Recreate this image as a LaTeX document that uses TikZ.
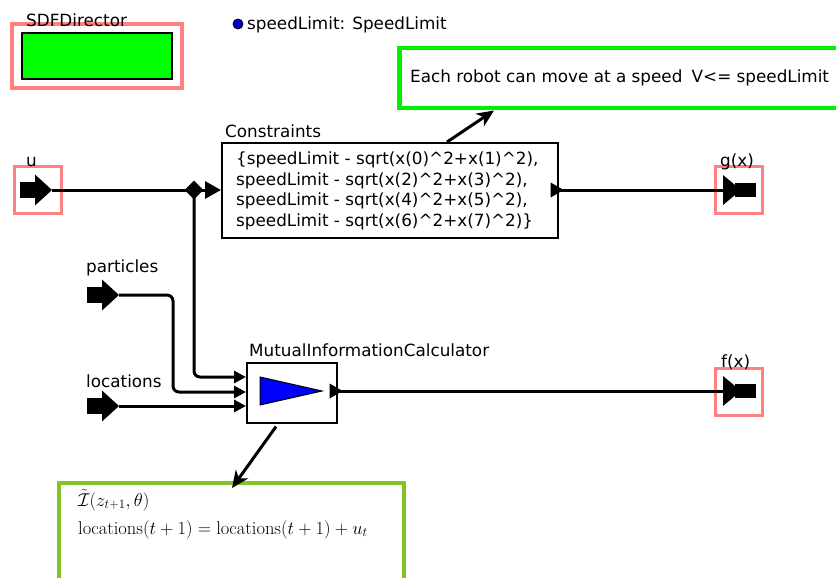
\documentclass[tikz,border=0pt]{standalone}
\usepackage{fontspec}
\setsansfont{DejaVu Sans}
\usetikzlibrary{arrows.meta,shapes.geometric,calc}

\definecolor{framepink}{RGB}{255,128,128}
\definecolor{dirgreen}{RGB}{0,255,0}
\definecolor{notegreen}{RGB}{0,240,0}
\definecolor{mathgreen}{RGB}{130,195,40}
\definecolor{paramblue}{RGB}{0,0,200}

\newcommand{\bigmath}[1]{\scalebox{1.07}{$#1$}}

\begin{document}
\begin{tikzpicture}[x=1pt,y=-1pt,
  lbl/.style={font=\sffamily\fontsize{16.8}{20}\selectfont, inner sep=0pt, anchor=base west},
  mathlbl/.style={font=\fontsize{17.28}{21}\selectfont, inner sep=0pt, anchor=base west},
  portframe/.style={draw=framepink, line width=3.2pt, minimum size=47pt, inner sep=0pt},
  blockbox/.style={draw, line width=1.6pt, inner sep=0pt, anchor=north west},
  wire/.style={line width=3pt, rounded corners=6pt},
  inwire/.style={wire, -{Triangle[length=12pt,width=12pt]}},
  note/.style={-{Stealth[length=17pt,width=15pt,inset=5pt]}, line width=3pt},
  inport/.pic={
    \fill (-15,-8) rectangle (0,8);
    \fill (0,-15.5) -- (17,0) -- (0,15.5) -- cycle;
  },
  outport/.pic={
    \fill (0,-15) -- (0,15) -- (18,0) -- cycle;
    \fill (12,-7) rectangle (33,7);
  },
  outtri/.pic={
    \fill (-8,-7.5) -- (-8,7.5) -- (5,0) -- cycle;
  }]
\clip (0,0) rectangle (836,578);

% director
\node[draw=framepink, line width=3.2pt, minimum width=170pt, minimum height=64pt, inner sep=0pt] (dirframe) at (97,56) {};
\node[draw, fill=dirgreen, line width=2pt, minimum width=150pt, minimum height=46pt, inner sep=0pt] (director) at (97,56) {};
\node[lbl] (dirlbl) at (26,27) {SDFDirector};

% parameter
\node[circle, draw, fill=paramblue, line width=0.8pt, minimum size=10pt, inner sep=0pt] (pdot) at (238,24) {};
\node[lbl] (param) at (247,30) {speedLimit: SpeedLimit};

% annotation
\node[draw=notegreen, line width=4.5pt, minimum width=460pt, minimum height=60pt, inner sep=0pt, anchor=north west] (note) at (397,46) {};
\node[lbl] (notetext) at (410,82) {Each robot can move at a speed\hspace{0.55em}V<= speedLimit};

% Constraints expression
\node[blockbox, minimum width=336pt, minimum height=95pt] (cons) at (221,142) {};
\node[lbl] (conslbl) at (225,137) {Constraints};
\node[lbl] (c1) at (236,164) {\{speedLimit - sqrt(x(0)\^{}2+x(1)\^{}2),};
\node[lbl] (c2) at (236,185) {speedLimit - sqrt(x(2)\^{}2+x(3)\^{}2),};
\node[lbl] (c3) at (236,205) {speedLimit - sqrt(x(4)\^{}2+x(5)\^{}2),};
\node[lbl] (c4) at (236,226) {speedLimit - sqrt(x(6)\^{}2+x(7)\^{}2)\}};

% MutualInformationCalculator
\node[blockbox, minimum width=90pt, minimum height=60pt] (mi) at (246,362) {};
\node[lbl] (milbl) at (249,356) {MutualInformationCalculator};
\filldraw[fill=blue, line width=1pt] (260,377) -- (322,391) -- (260,405) -- cycle;

% ports
\node[portframe] (u) at (38,190) {};
\node[lbl] (ulbl) at (26,166) {u};
\pic at (35,190) {inport};
\coordinate (uout) at (52,190);

\node[lbl] (plbl) at (86,272) {particles};
\pic at (102,295) {inport};
\coordinate (pout) at (119,295);

\node[lbl] (llbl) at (86,387) {locations};
\pic at (102,406) {inport};
\coordinate (lout) at (119,406);

\node[portframe] (gx) at (739,190) {};
\node[lbl] (glbl) at (720,166) {g(x)};
\pic at (723,190) {outport};
\coordinate (gin) at (723,190);

\node[portframe] (fx) at (739,392) {};
\node[lbl] (flbl) at (721,367) {f(x)};
\pic at (723,391) {outport};
\coordinate (fin) at (723,391);

% relation diamond
\node[diamond, fill, inner sep=0pt, minimum size=19pt] (rel) at (194,190) {};

% wires
\draw[wire] (uout) -- (rel.center);
\draw[inwire, -{Triangle[length=16pt,width=17pt]}] (rel.center) -- (cons.west |- uout);
\draw[inwire] (rel.center) -- (194,377) -- (mi.west |- 0,377);
\draw[inwire] (pout) -- (173,295) -- (173,392) -- (mi.west |- 0,392);
\draw[inwire] (lout) -- (mi.west |- lout);

\pic at (cons.east |- uout) {outtri};
\draw[wire] (cons.east |- uout) -- (gin);
\pic at (mi.east |- fin) {outtri};
\draw[wire] (mi.east |- fin) -- (fin);

% math annotation
\node[draw=mathgreen, line width=3.5pt, minimum width=345pt, minimum height=130pt, inner sep=0pt, anchor=north west] (mathbox) at (57,481) {};
\node[mathlbl] (m1) at (78,506) {\bigmath{\tilde{\mathcal{I}}(z_{t+1},\theta)}};
\node[mathlbl] (m2) at (78,534) {\bigmath{\mathrm{locations}(t+1)=\mathrm{locations}(t+1)+u_t}};

% annotation links
\draw[note] ($(cons.north west)+(226,0)$) -- ($(note.south west)+(97,0)$);
\draw[note] ($(mi.south west)+(30,3)$) -- ($(mathbox.north west)+(175,7)$);
\end{tikzpicture}
\end{document}
